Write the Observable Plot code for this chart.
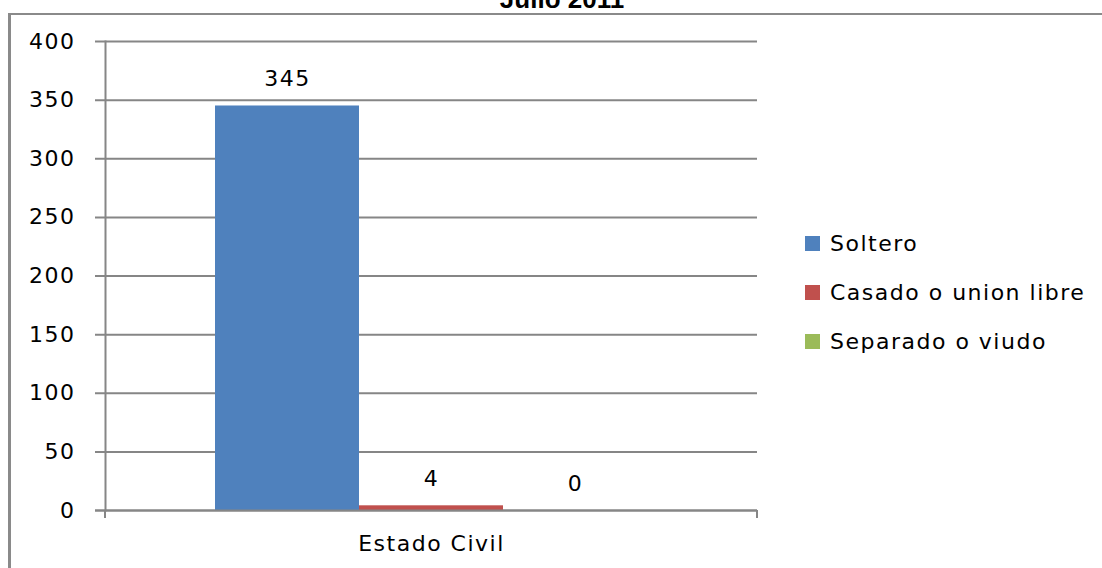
<!DOCTYPE html>
<html>
<head>
<meta charset="utf-8">
<script src="https://cdn.jsdelivr.net/npm/d3@7"></script>
<script src="https://cdn.jsdelivr.net/npm/@observablehq/plot@0.6"></script>
<style>
  html, body { margin: 0; padding: 0; background: #fff; width: 1102px; height: 568px; overflow: hidden; position: relative; }
  #title { position: absolute; top: -16px; left: 0; width: 1124px; text-align: center; font: bold 26px "Liberation Sans", Arial, sans-serif; color: #000; }
  #frame { position: absolute; left: 8px; top: 13px; width: 1200px; height: 700px; border-left: 3px solid #8a8a8a; border-top: 2px solid #8a8a8a; }
  #chart { position: absolute; left: 0; top: 0; }
  #legend { position: absolute; left: 805px; top: 219px; font-family: "DejaVu Sans", sans-serif; font-size: 22px; letter-spacing: 1.5px; color: #000; }
  #legend .item { display: flex; align-items: center; height: 49px; white-space: nowrap; }
  #legend .sw { width: 15px; height: 15px; margin-right: 10px; }
</style>
</head>
<body>
<div id="frame"></div>
<div id="title">Julio 2011</div>
<div id="chart"></div>
<div id="legend"></div>
<script>
const categories = ["Estado Civil"];
const series = ["Soltero", "Casado o union libre", "Separado o viudo"];
const values = [345, 4, 0];
const colors = ["#4F81BD", "#C0504D", "#9BBB59"];
const yTicks = [0, 50, 100, 150, 200, 250, 300, 350, 400];

const data = series.map((s, i) => ({group: categories[0], series: s, value: values[i]}));
const grid = "#868686";

const endTicks = (index, scales, values, dimensions) => {
  const g = d3.create("svg:g");
  const y0 = scales.y(0);
  [dimensions.marginLeft, dimensions.width - dimensions.marginRight].forEach(x => {
    g.append("line").attr("x1", x).attr("x2", x).attr("y1", y0).attr("y2", y0 + 8)
      .attr("stroke", grid).attr("stroke-width", 2);
  });
  return g.node();
};

const chart = Plot.plot({
  width: 1102,
  height: 568,
  marginLeft: 105,
  marginRight: 345,
  marginTop: 41,
  marginBottom: 58,
  style: {background: "transparent", fontFamily: "DejaVu Sans, sans-serif", fontSize: "22px", letterSpacing: "1.5px", color: "#000"},
  fx: {domain: categories, padding: 0, label: null},
  x: {domain: series, paddingInner: 0, paddingOuter: 0.75, axis: null},
  y: {domain: [0, 400], axis: null, label: null},
  color: {domain: series, range: colors},
  marks: [
    Plot.ruleY(yTicks, {stroke: grid, strokeWidth: 2, insetLeft: -10}),
    Plot.barY(data, {fx: "group", x: "series", y: "value", fill: "series"}),
    Plot.ruleY([0], {stroke: grid, strokeWidth: 2, insetLeft: -10}),
    Plot.frame({anchor: "left", stroke: grid, strokeWidth: 2}),
    endTicks,
    Plot.axisY({ticks: yTicks, tickSize: 0, tickPadding: 30, fontSize: 22, anchor: "left", label: null}),
    Plot.axisFx({anchor: "bottom", tickSize: 0, tickPadding: 25, fontSize: 22, label: null}),
    Plot.text(data, {fx: "group", x: "series", y: "value", text: d => String(d.value), dy: -27, fontSize: 22, fill: "#000"})
  ]
});
document.getElementById("chart").appendChild(chart);

const legend = document.getElementById("legend");
series.forEach((s, i) => {
  const item = document.createElement("div");
  item.className = "item";
  const sw = document.createElement("div");
  sw.className = "sw";
  sw.style.background = colors[i];
  const t = document.createElement("span");
  t.textContent = s;
  item.appendChild(sw);
  item.appendChild(t);
  legend.appendChild(item);
});
</script>
</body>
</html>
